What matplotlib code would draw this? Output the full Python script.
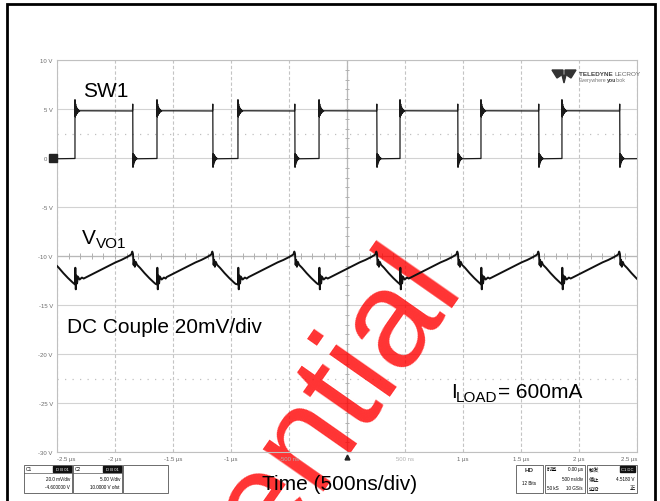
import numpy as np
import matplotlib
matplotlib.use("Agg")
import matplotlib.pyplot as plt
from matplotlib.patches import Rectangle, Polygon

plt.rcParams['font.family'] = ['Liberation Sans', 'DejaVu Sans']

# SW1 (C2, 5 V/div) - edge times, in us
sw_rise_us = [-2.345, -1.638, -0.940, -0.241, 0.457, 1.155, 1.853]
sw_fall_us = [-2.545, -1.845, -1.155, -0.448, 0.259, 0.957, 1.655, 2.353]
sw_high_v = 4.8
sw_low_v = -0.05
# ringing after each edge (offset from the settled level, one value per 3 ns)
ring_rise_v = [1.15, -0.6, 0.7, -0.45, 0.45, -0.3, 0.3, -0.2, 0.18, -0.12, 0.1, -0.07, 0.05, -0.03, 0.02]
ring_fall_v = [-0.9, 0.5, -0.6, 0.4, -0.4, 0.28, -0.25, 0.18, -0.13, 0.09, -0.07, 0.04, -0.03]
ring_step_us = 0.003

# VVO1 ripple (C1, 20 mV/div) as drawn on the screen grid, around the SW1 edges
vo_rise_dt = [0.0, 0.003, 0.007, 0.012, 0.018, 0.025, 0.040, 0.060, 0.075]
vo_rise_v = [-12.9, -11.2, -13.4, -12.0, -12.8, -12.1, -12.4, -12.2, -12.3]
vo_fall_dt = [-0.40, -0.35, -0.30, -0.25, -0.20, -0.15, -0.10, -0.05, -0.015, -0.006, 0.0,
              0.005, 0.010, 0.016, 0.024, 0.035, 0.06, 0.10, 0.14, 0.18, 0.195]
vo_fall_v = [-12.15, -11.85, -11.55, -11.25, -10.95, -10.65, -10.4, -10.1, -9.85, -9.55, -9.8,
             -10.9, -10.4, -11.1, -10.6, -10.9, -11.2, -11.75, -12.25, -12.7, -12.85]

y_ticks = [10, 5, 0, -5, -10, -15, -20, -25, -30]
y_tick_labels = ['10 V', '5 V', '0 V', '-5 V', '-10 V', '-15 V', '-20 V', '-25 V', '-30 V']
x_ticks = [-2.5, -2.0, -1.5, -1.0, -0.5, 0.0, 0.5, 1.0, 1.5, 2.0, 2.5]
x_tick_labels = ['-2.5 µs', '-2 µs', '-1.5 µs', '-1 µs', '-500 ns', '', '500 ns', '1 µs', '1.5 µs', '2 µs', '2.5 µs']
thresholds_v = [2.5, -22.5]

W, H = 660, 502


def fx(px):
    return px / W


def fy(py):
    return 1 - py / H


# construir las trazas
events = sorted([(t, 1) for t in sw_rise_us] + [(t, 0) for t in sw_fall_us])
sw_t = [-2.7]
sw_v = [sw_low_v]
for te, up in events:
    if up:
        sw_t.append(te)
        sw_v.append(sw_low_v)
        for k, r in enumerate(ring_rise_v):
            sw_t.append(te + k * ring_step_us)
            sw_v.append(sw_high_v + r)
    else:
        sw_t += [te - 0.004, te - 0.002]
        sw_v += [sw_high_v, sw_high_v + 0.7]
        for k, r in enumerate(ring_fall_v):
            sw_t.append(te + k * ring_step_us)
            sw_v.append(sw_low_v + r)
sw_t.append(2.7)
sw_v.append(sw_low_v)

vo_pts = []
for te in sw_rise_us:
    vo_pts += [(te + d, v) for d, v in zip(vo_rise_dt, vo_rise_v)]
for te in sw_fall_us:
    vo_pts += [(te + d, v) for d, v in zip(vo_fall_dt, vo_fall_v)]
vo_pts.sort()
vo_t = [p[0] for p in vo_pts]
vo_v = [p[1] for p in vo_pts]

fig = plt.figure(figsize=(W / 100, H / 100), dpi=100)
ax = fig.add_axes([fx(57), fy(453), 580 / W, 392 / H])
ax.set_xlim(-2.5, 2.5)
ax.set_ylim(-30, 10)

# reticula del osciloscopio
for y in y_ticks:
    ax.axhline(y, color='#d2d2d2', lw=0.8, zorder=0.5)
for x in x_ticks:
    ax.axvline(x, color='#c4c4c4', lw=0.8, ls=(0, (3, 2)), zorder=0.5)
ax.axvline(0, color='#b8b8b8', lw=0.9, zorder=0.6)
ax.axhline(-10, color='#b8b8b8', lw=0.9, zorder=0.6)
ax.vlines(np.arange(-2.5, 2.51, 0.1), -10.3, -9.7, color='#b0b0b0', lw=0.7, zorder=0.6)
ax.hlines(np.arange(-30, 10.1, 1.0), -0.014, 0.014, color='#b0b0b0', lw=0.7, zorder=0.6)
for y in thresholds_v:
    ax.axhline(y, color='#c0c0c0', lw=0.9, ls=(0, (1, 5)), zorder=0.6)

for s in ax.spines.values():
    s.set_color('#c0c0c0')
    s.set_linewidth(0.8)
ax.set_xticks(x_ticks)
ax.set_xticklabels([])
ax.set_yticks(y_ticks)
ax.set_yticklabels(y_tick_labels, fontsize=4.3, color='#6a6a6a')
ax.tick_params(length=0, pad=3)
for x, lab in zip(x_ticks, x_tick_labels):
    ha = 'left' if x == x_ticks[0] else ('right' if x == x_ticks[-1] else 'center')
    col = '#b0b0b0' if 'ns' in lab else '#6a6a6a'
    ax.text(x, -30.4, lab, fontsize=4.3, color=col, ha=ha, va='top', clip_on=False)

# marca de confidencialidad
ax.text(fx(462), fy(284), 'Confidential', transform=fig.transFigure, fontsize=100,
        color='#ff0000', alpha=0.8, rotation=55, rotation_mode='anchor',
        ha='right', va='baseline', clip_on=False, zorder=1.5)

ax.plot(sw_t, sw_v, color='#1a1a1a', lw=0.9, zorder=3)
ax.plot(vo_t, vo_v, color='#111111', lw=1.4, zorder=3)

# marcadores de canal y disparo
ax.plot(-2.535, 0, 's', ms=6, color='#222222', clip_on=False, zorder=4)
ax.plot(0, -30.5, '^', ms=3.5, color='#222222', clip_on=False, zorder=4)

# etiquetas
fig.text(fx(83), fy(97), 'SW1', fontsize=15, va='baseline')
fig.text(fx(82), fy(244), 'V', fontsize=15, va='baseline')
fig.text(fx(96), fy(248), 'VO1', fontsize=11, va='baseline')
fig.text(fx(67), fy(333), 'DC Couple 20mV/div', fontsize=15, va='baseline')
fig.text(fx(451), fy(398), 'I', fontsize=15, va='baseline')
fig.text(fx(456), fy(402), 'LOAD', fontsize=11, va='baseline')
fig.text(fx(498), fy(398), '= 600mA', fontsize=15, va='baseline')
fig.text(fx(340), fy(490), 'Time (500ns/div)', fontsize=15, va='baseline', ha='center')

# logo
fig.add_artist(Polygon([[fx(552), fy(71)], [fx(563), fy(71)], [fx(563), fy(75)], [fx(557), fy(79)]],
                       transform=fig.transFigure, color='#333333'))
fig.add_artist(Polygon([[fx(565), fy(71)], [fx(576), fy(71)], [fx(571), fy(79)], [fx(565), fy(75)]],
                       transform=fig.transFigure, color='#333333'))
fig.add_artist(Polygon([[fx(562), fy(76)], [fx(566), fy(76)], [fx(564), fy(84)]],
                       transform=fig.transFigure, color='#333333'))

renderer = fig.canvas.get_renderer()


def text_run(x0, y0, parts):
    # escribe trozos seguidos con distinto estilo
    x = x0
    for txt, kw in parts:
        t = fig.text(fx(x), fy(y0), txt, va='baseline', **kw)
        x = t.get_window_extent(renderer).x1 + 0.0
        x = x  # pixeles desde la izquierda
    return x


text_run(579, 76, [('TELEDYNE ', dict(fontsize=4.6, weight='bold', color='#444444')),
                   ('LECROY', dict(fontsize=4.6, color='#666666'))])
text_run(579, 82, [('Everywhere', dict(fontsize=3.8, color='#777777')),
                   ('you', dict(fontsize=3.8, weight='bold', color='#444444')),
                   ('look', dict(fontsize=3.8, color='#777777'))])

# cuadros de informacion inferiores
cjk = ['Noto Sans CJK SC', 'DejaVu Sans']


def box(x0, x1, y0=466, y1=494):
    fig.add_artist(Rectangle((fx(x0), fy(y1)), (x1 - x0) / W, (y1 - y0) / H,
                             transform=fig.transFigure, fill=False, ec='#555555', lw=0.6))


def badge(x0, txt):
    fig.add_artist(Rectangle((fx(x0), fy(473)), 18 / W, 6 / H, transform=fig.transFigure,
                             color='#111111'))
    fig.text(fx(x0 + 9), fy(470), txt, fontsize=3, color='white', ha='center', va='center')


box(24, 72)
fig.add_artist(plt.Line2D([fx(24), fx(72)], [fy(474), fy(474)], transform=fig.transFigure, color='#555555', lw=0.5))
fig.text(fx(26), fy(470), 'C1', fontsize=3.5, va='center')
badge(53, 'D B 01')
fig.text(fx(70), fy(480), '20.0 mV/div', fontsize=3.3, ha='right', va='center')
fig.text(fx(70), fy(488), '-4.600000 V', fontsize=3.3, ha='right', va='center')
box(73, 122)
fig.add_artist(plt.Line2D([fx(73), fx(122)], [fy(474), fy(474)], transform=fig.transFigure, color='#555555', lw=0.5))
fig.text(fx(75), fy(470), 'C2', fontsize=3.5, va='center')
badge(103, 'D B 01')
fig.text(fx(120), fy(480), '5.00 V/div', fontsize=3.3, ha='right', va='center')
fig.text(fx(120), fy(488), '10.0000 V ofst', fontsize=3.3, ha='right', va='center')
box(123, 168)

box(516, 543)
fig.text(fx(529), fy(471), 'HD', fontsize=4.5, weight='bold', ha='center', va='center', color='#333333')
fig.text(fx(529), fy(484), '12 Bits', fontsize=3.3, ha='center', va='center')
box(545, 585)
fig.text(fx(547), fy(470), '时基', fontsize=3.8, va='center', family=cjk)
fig.text(fx(583), fy(470), '0.00 µs', fontsize=3.3, ha='right', va='center')
fig.text(fx(583), fy(480), '500 ns/div', fontsize=3.3, ha='right', va='center')
fig.text(fx(547), fy(489), '50 kS', fontsize=3.3, va='center')
fig.text(fx(583), fy(489), '10 GS/s', fontsize=3.3, ha='right', va='center')
box(587, 637)
fig.text(fx(589), fy(470), '触发', fontsize=3.8, va='center', family=cjk)
fig.add_artist(Rectangle((fx(620), fy(473)), 15 / W, 6 / H, transform=fig.transFigure, color='#111111'))
fig.text(fx(627.5), fy(470), 'C1 DC', fontsize=3, color='white', ha='center', va='center')
fig.text(fx(589), fy(480), '停止', fontsize=3.8, va='center', family=cjk)
fig.text(fx(635), fy(480), '4.5180 V', fontsize=3.3, ha='right', va='center')
fig.text(fx(589), fy(489), '边沿', fontsize=3.8, va='center', family=cjk)
fig.text(fx(635), fy(489), '正', fontsize=3.8, ha='right', va='center', family=cjk)

# marco exterior
fig.add_artist(Rectangle((fx(7), fy(510)), 648 / W, 505 / H, transform=fig.transFigure,
                         fill=False, ec='black', lw=2))

fig.savefig('out.png', dpi=100)
